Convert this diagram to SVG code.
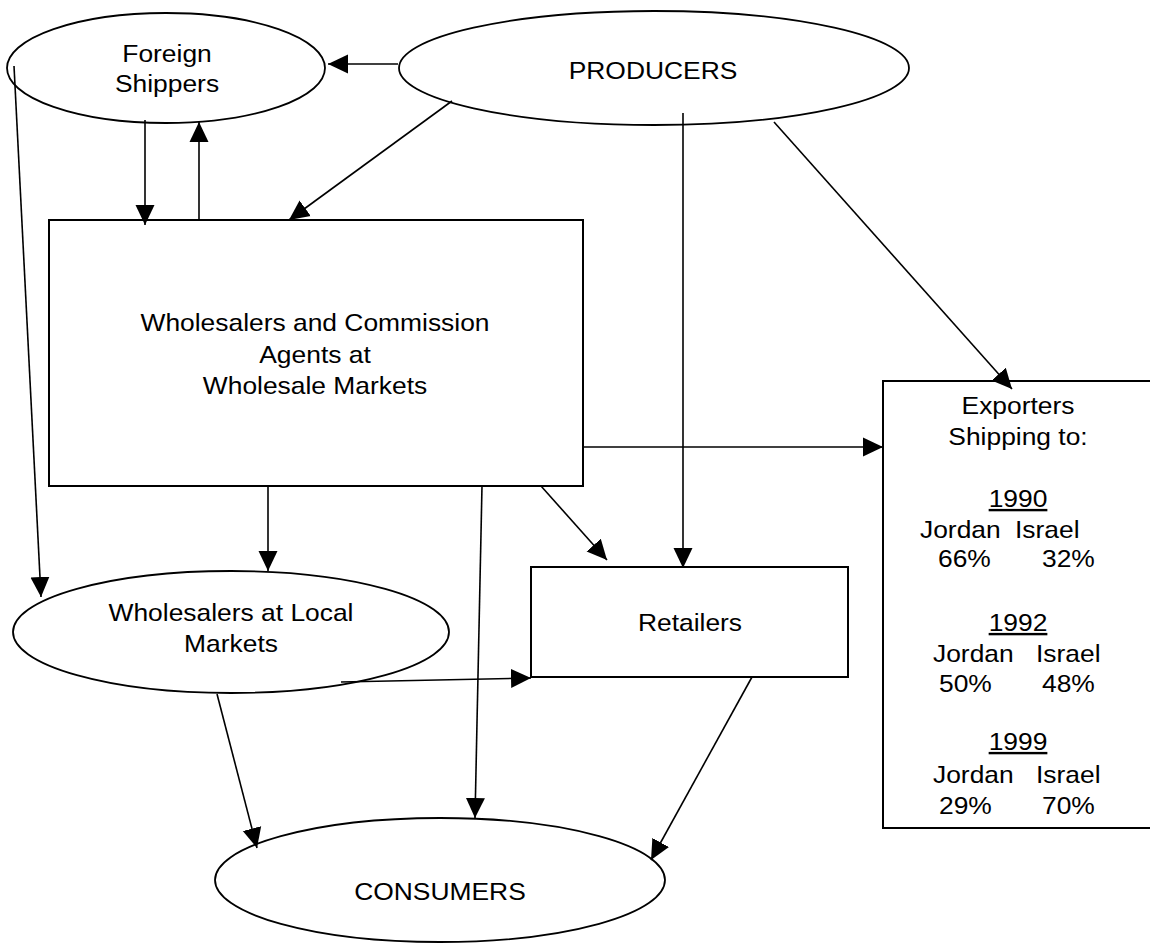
<svg xmlns="http://www.w3.org/2000/svg" width="1150" height="945" viewBox="0 0 1150 945">
<style>
.t{font-family:"Liberation Sans",Arial,sans-serif;font-size:24px;fill:#000}
.m{text-anchor:middle}
.shape{fill:#fff;stroke:#000;stroke-width:1.8}
.box{fill:#fff;stroke:#000;stroke-width:2}
.c line{stroke:#000;stroke-width:1.6;marker-end:url(#ah)}
</style>
<defs>
<marker id="ah" markerUnits="userSpaceOnUse" markerWidth="20" markerHeight="20" viewBox="0 0 20 19" refX="20" refY="9.5" orient="auto">
<path d="M0,0 L20,9.5 L0,19 z" fill="#000"/>
</marker>
</defs>
<rect width="1150" height="945" fill="#fff"/>
<g id="foreign-shippers">
<ellipse class="shape" cx="166" cy="68" rx="159" ry="55"/>
<text class="t m" transform="translate(167 62) scale(1.1 1)">Foreign</text>
<text class="t m" transform="translate(167 92) scale(1.1 1)">Shippers</text>
</g>
<g id="producers">
<ellipse class="shape" cx="654" cy="68" rx="255" ry="57"/>
<text class="t m" transform="translate(653 79) scale(1.1 1)">PRODUCERS</text>
</g>
<g id="wholesale-markets">
<rect class="box" x="49" y="220" width="534" height="266"/>
<text class="t m" transform="translate(315 331) scale(1.1 1)">Wholesalers and Commission</text>
<text class="t m" transform="translate(315 362.5) scale(1.1 1)">Agents at</text>
<text class="t m" transform="translate(315 394) scale(1.1 1)">Wholesale Markets</text>
</g>
<g id="exporters">
<rect class="box" x="883" y="381" width="280" height="447"/>
<text class="t m" transform="translate(1018 414) scale(1.1 1)">Exporters</text>
<text class="t m" transform="translate(1018 445) scale(1.1 1)">Shipping to:</text>
<text class="t m" text-decoration="underline" transform="translate(1018 507) scale(1.1 1)">1990</text>
<text class="t" transform="translate(920 538) scale(1.1 1)">Jordan</text>
<text class="t" transform="translate(1015 538) scale(1.1 1)">Israel</text>
<text class="t" transform="translate(938 567) scale(1.1 1)">66%</text>
<text class="t" transform="translate(1042 567) scale(1.1 1)">32%</text>
<text class="t m" text-decoration="underline" transform="translate(1018 631) scale(1.1 1)">1992</text>
<text class="t" transform="translate(933 662) scale(1.1 1)">Jordan</text>
<text class="t" transform="translate(1036 662) scale(1.1 1)">Israel</text>
<text class="t" transform="translate(939 692) scale(1.1 1)">50%</text>
<text class="t" transform="translate(1042 692) scale(1.1 1)">48%</text>
<text class="t m" text-decoration="underline" transform="translate(1018 750) scale(1.1 1)">1999</text>
<text class="t" transform="translate(933 783) scale(1.1 1)">Jordan</text>
<text class="t" transform="translate(1036 783) scale(1.1 1)">Israel</text>
<text class="t" transform="translate(939 814) scale(1.1 1)">29%</text>
<text class="t" transform="translate(1042 814) scale(1.1 1)">70%</text>
</g>
<g id="local-wholesalers">
<ellipse class="shape" cx="231" cy="632" rx="218" ry="61"/>
<text class="t m" transform="translate(231 621) scale(1.1 1)">Wholesalers at Local</text>
<text class="t m" transform="translate(231 652) scale(1.1 1)">Markets</text>
</g>
<g id="retailers">
<rect class="box" x="531" y="567" width="317" height="110"/>
<text class="t m" transform="translate(690 631) scale(1.1 1)">Retailers</text>
</g>
<g id="consumers">
<ellipse class="shape" cx="440" cy="880" rx="225" ry="62"/>
<text class="t m" transform="translate(440 900) scale(1.1 1)">CONSUMERS</text>
</g>
<g id="connectors" class="c">
<line x1="398" y1="64" x2="328" y2="64"/>
<line x1="145" y1="120" x2="145" y2="225"/>
<line x1="199" y1="220" x2="199" y2="122"/>
<line x1="452" y1="101" x2="289" y2="220"/>
<line x1="14" y1="66" x2="41" y2="597"/>
<line x1="683" y1="113" x2="683" y2="568"/>
<line x1="774" y1="122" x2="1012" y2="389"/>
<line x1="583" y1="447" x2="883" y2="447"/>
<line x1="268" y1="486" x2="268" y2="571"/>
<line x1="482" y1="486" x2="475" y2="818"/>
<line x1="541" y1="486" x2="607" y2="560"/>
<line x1="341" y1="682" x2="531" y2="678"/>
<line x1="217" y1="694" x2="257" y2="848"/>
<line x1="752" y1="677" x2="651" y2="860"/>
</g>
</svg>
